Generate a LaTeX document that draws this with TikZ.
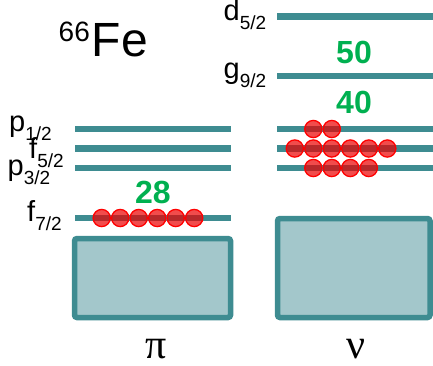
\documentclass[tikz,border=0pt]{standalone}
\usepackage{fontspec}
\setmainfont{Liberation Sans}
\newfontfamily\greekfont{Liberation Serif}
\definecolor{tealbar}{RGB}{62,140,145}
\definecolor{corefill}{RGB}{163,199,203}
\definecolor{magicgreen}{RGB}{0,176,80}
\newcommand{\lvlname}[2]{{\fontsize{29}{29}\selectfont #1}\raisebox{-9pt}{\fontsize{19}{19}\selectfont #2}}
\begin{document}
\begin{tikzpicture}[x=1pt,y=-1pt,
  level/.style={draw=tealbar, line width=6.5pt},
  core/.style={draw=tealbar, fill=corefill, line width=5.5pt, rounded corners=2.5pt},
  nuc/.style={circle, draw=red, line width=1.3pt, fill=red!92!black, fill opacity=0.7, minimum size=17.2pt, inner sep=0pt},
  magic/.style={text=magicgreen, font=\fontsize{32}{32}\selectfont\bfseries, inner sep=0pt, anchor=base},
  lbl/.style={anchor=base west, inner sep=0pt},
  greek/.style={font=\greekfont\fontsize{42}{42}\selectfont, inner sep=0pt, anchor=base, text depth=0pt}]
\useasboundingbox (0,0) rectangle (433,365);

% cores
\draw[core] (74.5,238.5) rectangle (230.5,317.5);
\draw[core] (277.5,218.5) rectangle (430,317.5);

% proton levels
\draw[level] (75,129) -- (231,129);
\draw[level] (75,148.5) -- (231,148.5);
\draw[level] (75,168) -- (231,168);
\draw[level] (75,218) -- (231,218);

% neutron levels
\draw[level] (277,16.7) -- (433,16.7);
\draw[level] (277,76) -- (433,76);
\draw[level] (277,129) -- (433,129);
\draw[level] (277,148.5) -- (433,148.5);
\draw[level] (277,168) -- (433,168);

% labels
\node[lbl] (lp12) at (9,131) {\lvlname{p}{1/2}};
\node[lbl] (lf52) at (29,158) {\lvlname{f}{5/2}};
\node[lbl] (lp32) at (7.5,175) {\lvlname{p}{3/2}};
\node[lbl] (lf72) at (27,221.5) {\lvlname{f}{7/2}};
\node[lbl] (ld52) at (223.5,20.7) {\lvlname{d}{5/2}};
\node[lbl] (lg92) at (223.5,78) {\lvlname{g}{9/2}};

% magic numbers
\node[magic] (m28) at (153,203) {28};
\node[magic] (m40) at (354,113) {40};
\node[magic] (m50) at (354,63.3) {50};

% title
\node[lbl] (title) at (58.5,56.7) {\raisebox{15pt}{\fontsize{28}{28}\selectfont 66}\hspace{2pt}\fontsize{48}{48}\selectfont Fe};

% greek
\node[greek] (pi) at (156.5,358) {π};
\node[greek] (nu) at (356,358) {ν};

% protons
\foreach \i/\x in {1/101.7,2/120.2,3/138.7,4/157.2,5/175.7,6/194.2}
  \node[nuc] (pp\i) at (\x,218) {};

% neutrons
\foreach \i/\x in {1/313.3,2/331.8}
  \node[nuc] (na\i) at (\x,129) {};
\foreach \i/\x in {1/294.8,2/313.3,3/331.8,4/350.3,5/368.8,6/387.3}
  \node[nuc] (nb\i) at (\x,148.5) {};
\foreach \i/\x in {1/313.3,2/331.8,3/350.3,4/368.8}
  \node[nuc] (nc\i) at (\x,168) {};
\end{tikzpicture}
\end{document}
